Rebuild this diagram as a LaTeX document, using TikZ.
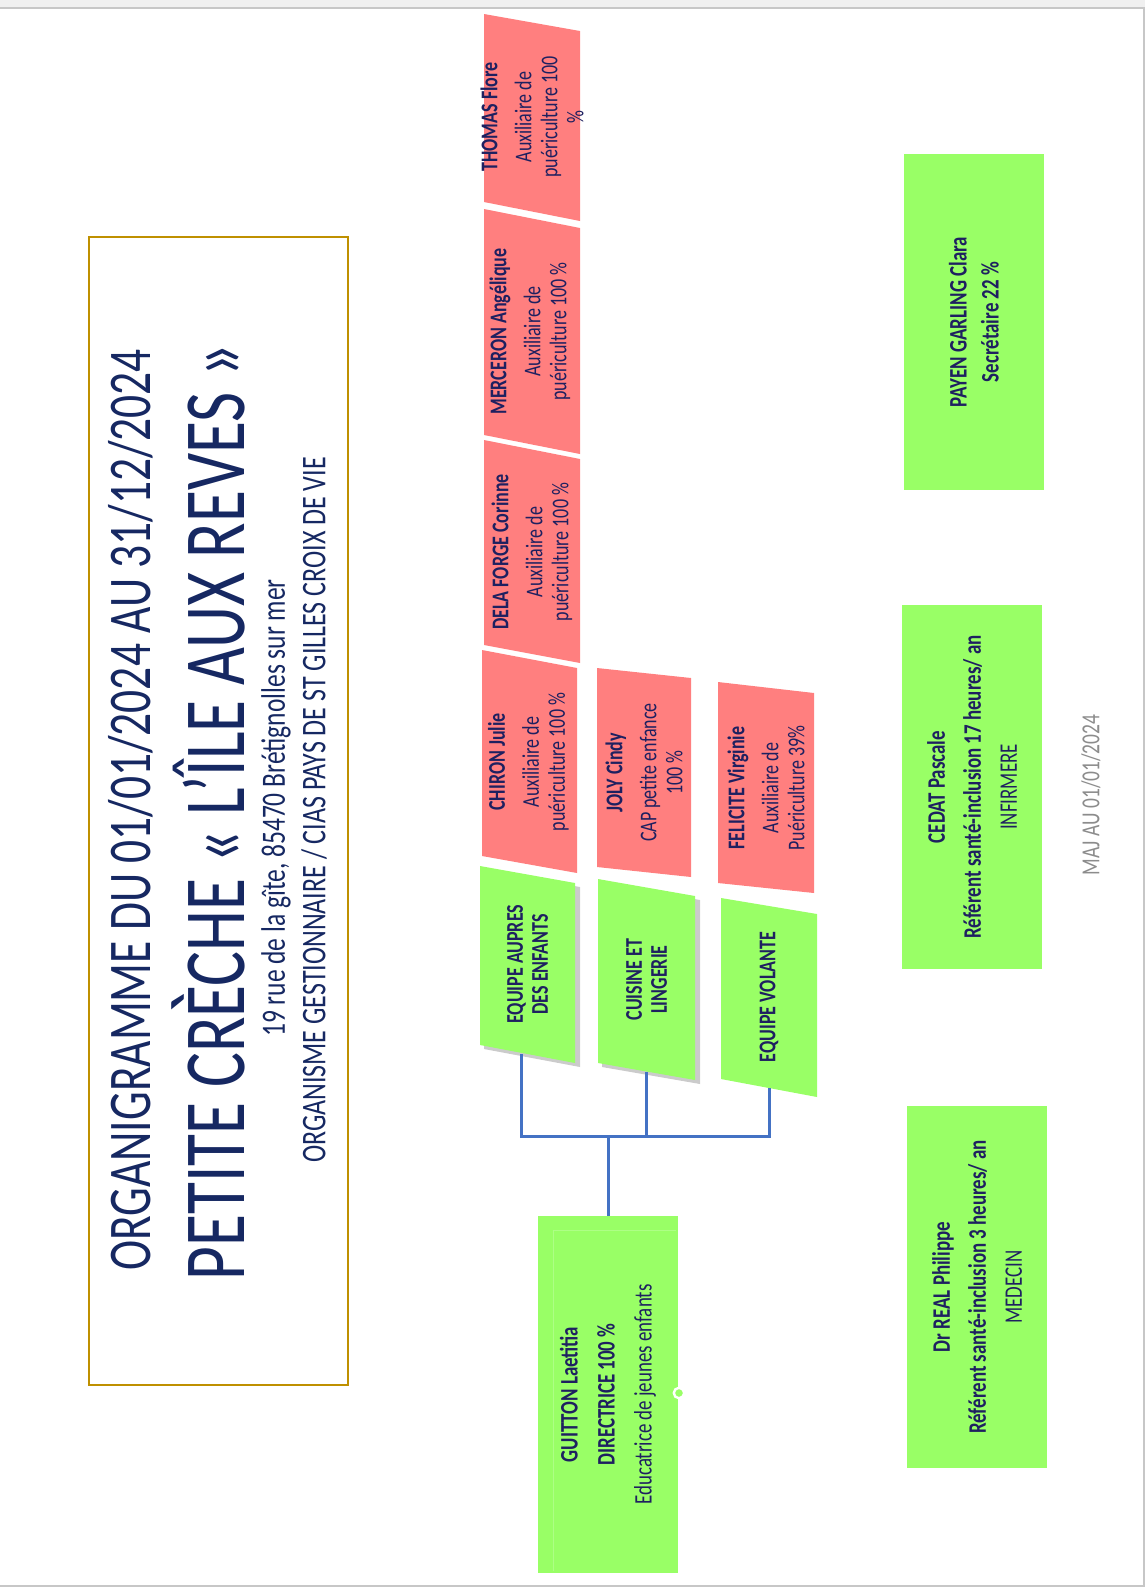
\documentclass[tikz,border=0pt]{standalone}
\usepackage{fontspec}
\setmainfont{Carlito}[FakeStretch=0.75]

\definecolor{pinkfill}{RGB}{255,127,127}
\definecolor{greenfill}{RGB}{153,255,102}
\definecolor{boxnavy}{RGB}{30,32,96}
\definecolor{titlenavy}{RGB}{22,40,98}
\definecolor{linkblue}{RGB}{68,114,196}
\definecolor{gold}{RGB}{191,144,0}
\definecolor{majgray}{RGB}{140,140,140}

\tikzset{
	boxtext/.style={rotate=90, align=center, text=boxnavy, inner sep=0pt, font=\fontsize{12}{13}\selectfont},
	pinkbox/.style={fill=pinkfill},
	greenbox/.style={fill=greenfill},
	shadowbox/.style={fill=black!45, opacity=0.45},
	teambox/.style={boxtext, font=\bfseries\fontsize{12}{12.5}\selectfont},
	staffbox/.style={boxtext, fill=greenfill, minimum height=70pt, font=\fontsize{12.6}{13}\selectfont},
	titleline/.style={rotate=90, text=titlenavy, inner sep=0pt},
	link/.style={draw=linkblue, line width=1.5pt}
}

\begin{document}
\begin{tikzpicture}[x=0.5pt,y=-0.5pt]
			
			\useasboundingbox (0,0) rectangle (1145,1587);
			
			%Page frame
			\fill[black!6] (0,0) rectangle (1145,8);
			\draw[black!22, line width=0.8pt] (0,8) -- (1144,8) -- (1144,1586) -- (0,1586);
			
			%Title
			\node (cadre) at (218.5,811) [draw=gold, line width=1pt, minimum width=129.5pt, 
			minimum height=574pt]{};
			\node (titre1) at (131,810) [titleline, font=\fontsize{30.3}{30}\selectfont]
			{ORGANIGRAMME DU 01/01/2024 AU 31/12/2024};
			\node (titre2) at (208,812) [titleline, font=\fontsize{43.6}{43}\selectfont]
			{PETITE CRÈCHE « L’ÎLE AUX REVES »};
			\node (adresse) at (276,808) [titleline, font=\fontsize{17}{17}\selectfont]
			{19 rue de la gîte, 85470 Brétignolles sur mer};
			\node (gestion) at (314,810) [titleline, font=\fontsize{17.3}{17}\selectfont]
			{ORGANISME GESTIONNAIRE / CIAS PAYS DE ST GILLES CROIX DE VIE};
			
			%Pink boxes
			\fill[pinkbox] (484,14) -- (580,31) -- (580,221) -- (484,202) -- cycle;
			\node (thomas) at (532,117) [boxtext]
			{\textbf{THOMAS Flore}\\[4pt]Auxiliaire de\\puériculture 100\\\%};
			\fill[pinkbox] (484,209) -- (580,228) -- (580,454) -- (484,435) -- cycle;
			\node (merceron) at (530,331.5) [boxtext]
			{\textbf{MERCERON Angélique}\\[4pt]Auxiliaire de\\puériculture 100 \%};
			\fill[pinkbox] (484,440) -- (580,459) -- (580,663) -- (484,645) -- cycle;
			\node (delaforge) at (532,552) [boxtext]
			{\textbf{DELA FORGE Corinne}\\[4pt]Auxiliaire de\\puériculture 100 \%};
			\fill[pinkbox] (482,650) -- (577,668) -- (577,873) -- (482,856) -- cycle;
			\node (chiron) at (528.5,762) [boxtext]
			{\textbf{CHIRON Julie}\\[4pt]Auxiliaire de\\puériculture 100 \%};
			\fill[pinkbox] (597,668) -- (691,678) -- (691,877) -- (597,867) -- cycle;
			\node (joly) at (644,772.5) [boxtext]
			{\textbf{JOLY Cindy}\\[4pt]CAP petite enfance\\100 \%};
			\fill[pinkbox] (718,682) -- (814,693) -- (814,893) -- (718,883) -- cycle;
			\node (felicite) at (766,788) [boxtext]
			{\textbf{FELICITE Virginie}\\[4pt]Auxiliaire de\\Puériculture 39\%};
			
			%Teams
			\fill[shadowbox] (484,870) -- (580,887) -- (580,1067) -- (484,1049) -- cycle;
			\fill[greenbox] (480,866) -- (575,883) -- (575,1063) -- (480,1045) -- cycle;
			\node (aupres) at (527.5,964.25) [teambox, minimum width=89.75pt]
			{EQUIPE AUPRES\\DES ENFANTS};
			\fill[shadowbox] (602,883) -- (700,900) -- (700,1084) -- (602,1067) -- cycle;
			\fill[greenbox] (598,879) -- (695,896) -- (695,1080) -- (598,1063) -- cycle;
			\node (cuisine) at (646.5,979.5) [teambox, minimum width=92pt]
			{CUISINE ET\\LINGERIE};
			\fill[greenbox] (721,898) -- (817,914) -- (817,1097) -- (721,1079) -- cycle;
			\node (volante) at (769,997) [teambox, minimum width=91pt]
			{EQUIPE VOLANTE};
			
			%Staff
			\node (payen) at (974,322) [staffbox, minimum width=168pt]
			{\textbf{PAYEN GARLING Clara}\\[3pt]\textbf{Secrétaire 22 \%}};
			\node (cedat) at (972,787) [staffbox, minimum width=182pt]
			{\textbf{CEDAT Pascale}\\[5pt]\textbf{Référent santé-inclusion 17 heures/ an}\\[5pt]INFIRMERE};
			\node (real) at (977,1287) [staffbox, minimum width=181pt]
			{\textbf{Dr REAL Philippe}\\[5pt]\textbf{Référent santé-inclusion 3 heures/ an}\\[5pt]MEDECIN};
			\node (guitton) at (608,1394.5) [staffbox, minimum width=178.5pt]
			{\textbf{GUITTON Laetitia}\\[5.5pt]\textbf{DIRECTRICE 100 \%}\\[5.5pt]Educatrice de jeunes enfants};
			\draw[greenfill!80!white, line width=0.4pt] (553,1571) -- (553,1230) -- (676,1230);
			\draw[white, fill=greenfill, line width=1.2pt] (679,1393) circle[radius=2.6pt];
			
			%Links
			\coordinate (bus) at (608,1136);
			\draw[link] ([xshift=-3pt]aupres.west) |- (bus);
			\draw[link] (cuisine.west) |- (bus);
			\draw[link] (volante.west) |- (bus);
			\draw[link] (bus) -- (guitton.east);
			
			%Update
			\node (maj) at (1091,795) [rotate=90, text=majgray, inner sep=0pt, 
			font=\fontsize{13}{13}\selectfont]{MAJ AU 01/01/2024};
			
\end{tikzpicture}
\end{document}
